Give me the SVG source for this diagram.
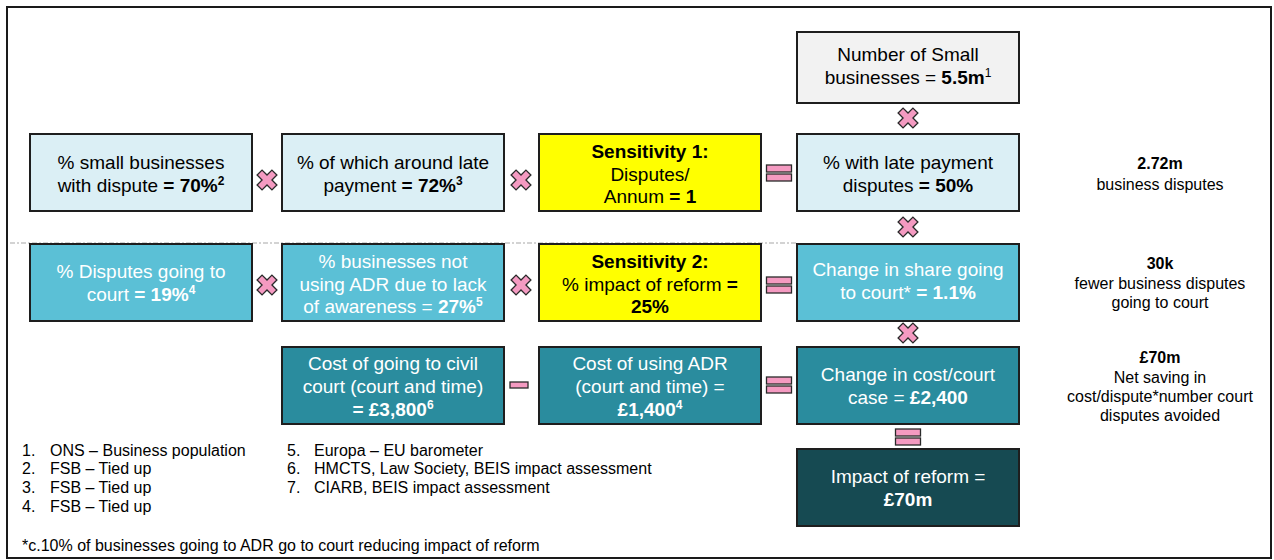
<svg xmlns="http://www.w3.org/2000/svg" width="1274" height="560" viewBox="0 0 1274 560">
<style>
text{font-family:"Liberation Sans",Arial,sans-serif;}
.box{stroke:#1e1e1e;stroke-width:2;}
.c1{fill:#dbeff5;}
.c2{fill:#5bc0d6;}
.c3{fill:#2a8c9e;}
.c4{fill:#164a52;}
.cy{fill:#ffff00;}
.cg{fill:#f2f2f2;}
.t{font-size:19px;text-anchor:middle;fill:#000;}
.w{fill:#fff;}
.b{font-weight:bold;}
.sup{font-size:12px;}
.note{font-size:16px;text-anchor:middle;fill:#000;}
.fn{font-size:16px;fill:#000;}
.op{fill:#f49ac1;stroke:#2a2a2a;stroke-width:1.3;}
</style>
<defs>
<polygon id="mul" points="-3.5,-10.5 3.5,-10.5 3.5,-3.5 10.5,-3.5 10.5,3.5 3.5,3.5 3.5,10.5 -3.5,10.5 -3.5,3.5 -10.5,3.5 -10.5,-3.5 -3.5,-3.5" transform="rotate(45)" class="op"/>
<g id="eqh"><rect x="-12.5" y="-8" width="25" height="7" class="op"/><rect x="-12.5" y="1" width="25" height="7" class="op"/></g>
</defs>
<rect x="7" y="7" width="1264" height="551" fill="#fff" stroke="#1a1a1a" stroke-width="2"/>
<line x1="10" y1="243" x2="797" y2="243" stroke="#a8a8a8" stroke-width="1.2" stroke-dasharray="5 2 2 2"/>

<g id="connectors">
<use href="#mul" x="267" y="180"/>
<use href="#mul" x="521" y="180"/>
<use href="#eqh" x="779" y="173"/>
<use href="#mul" x="908" y="118"/>
<use href="#mul" x="908" y="227"/>
<use href="#mul" x="267" y="285"/>
<use href="#mul" x="521" y="285"/>
<use href="#eqh" x="779" y="285"/>
<use href="#mul" x="908" y="333"/>
<rect x="510" y="382" width="18" height="6" class="op"/>
<use href="#eqh" x="779" y="385"/>
<use href="#eqh" x="908" y="437"/>
</g>

<g id="n-top">
<rect x="797" y="32" width="222" height="71" class="box cg"/>
<text class="t"><tspan x="908" y="61">Number of Small</tspan><tspan x="908" y="84">businesses = <tspan class="b">5.5m</tspan><tspan class="sup" dy="-7">1</tspan></tspan></text>
</g>

<g id="n-r1c1">
<rect x="30" y="134" width="222" height="77" class="box c1"/>
<text class="t"><tspan x="141" y="169">% small businesses</tspan><tspan x="141" y="192">with dispute <tspan class="b">= 70%</tspan><tspan class="b sup" dy="-7">2</tspan></tspan></text>
</g>
<g id="n-r1c2">
<rect x="282" y="134" width="222" height="77" class="box c1"/>
<text class="t"><tspan x="393" y="169">% of which around late</tspan><tspan x="393" y="192">payment <tspan class="b">= 72%</tspan><tspan class="b sup" dy="-7">3</tspan></tspan></text>
</g>
<g id="n-r1c3">
<rect x="539" y="134" width="222" height="77" class="box cy"/>
<text class="t"><tspan x="650" y="158" class="b">Sensitivity 1:</tspan><tspan x="650" y="181">Disputes/</tspan><tspan x="650" y="203">Annum <tspan class="b">= 1</tspan></tspan></text>
</g>
<g id="n-r1c4">
<rect x="797" y="134" width="222" height="77" class="box c1"/>
<text class="t"><tspan x="908" y="169">% with late payment</tspan><tspan x="908" y="192">disputes <tspan class="b">= 50%</tspan></tspan></text>
</g>

<g id="n-r2c1">
<rect x="30" y="244" width="222" height="77" class="box c2"/>
<text class="t w"><tspan x="141" y="278">% Disputes going to</tspan><tspan x="141" y="301">court <tspan class="b">= 19%</tspan><tspan class="b sup" dy="-7">4</tspan></tspan></text>
</g>
<g id="n-r2c2">
<rect x="282" y="244" width="222" height="77" class="box c2"/>
<text class="t w"><tspan x="393" y="268">% businesses not</tspan><tspan x="393" y="291">using ADR due to lack</tspan><tspan x="393" y="313">of awareness = <tspan class="b">27%</tspan><tspan class="b sup" dy="-7">5</tspan></tspan></text>
</g>
<g id="n-r2c3">
<rect x="539" y="244" width="222" height="77" class="box cy"/>
<text class="t"><tspan x="650" y="268" class="b">Sensitivity 2:</tspan><tspan x="650" y="291">% impact of reform <tspan class="b">=</tspan></tspan><tspan x="650" y="313" class="b">25%</tspan></text>
</g>
<g id="n-r2c4">
<rect x="797" y="244" width="222" height="77" class="box c2"/>
<text class="t w"><tspan x="908" y="276">Change in share going</tspan><tspan x="908" y="299">to court* <tspan class="b">= 1.1%</tspan></tspan></text>
</g>

<g id="n-r3c2">
<rect x="282" y="347" width="222" height="77" class="box c3"/>
<text class="t w"><tspan x="393" y="370">Cost of going to civil</tspan><tspan x="393" y="393">court (court and time)</tspan><tspan x="393" y="416" class="b">= £3,800<tspan class="sup" dy="-7">6</tspan></tspan></text>
</g>
<g id="n-r3c3">
<rect x="539" y="347" width="222" height="77" class="box c3"/>
<text class="t w"><tspan x="650" y="370">Cost of using ADR</tspan><tspan x="650" y="393">(court and time) =</tspan><tspan x="650" y="416" class="b">£1,400<tspan class="sup" dy="-7">4</tspan></tspan></text>
</g>
<g id="n-r3c4">
<rect x="797" y="347" width="222" height="77" class="box c3"/>
<text class="t w"><tspan x="908" y="381">Change in cost/court</tspan><tspan x="908" y="404">case = <tspan class="b">£2,400</tspan></tspan></text>
</g>

<g id="n-impact">
<rect x="797" y="449" width="222" height="77" class="box c4"/>
<text class="t w"><tspan x="908" y="483">Impact of reform =</tspan><tspan x="908" y="506" class="b">£70m</tspan></text>
</g>

<g id="notes">
<text class="note"><tspan x="1160" y="169" class="b">2.72m</tspan><tspan x="1160" y="190">business disputes</tspan></text>
<text class="note"><tspan x="1160" y="269" class="b">30k</tspan><tspan x="1160" y="289">fewer business disputes</tspan><tspan x="1160" y="308">going to court</tspan></text>
<text class="note"><tspan x="1160" y="363" class="b">£70m</tspan><tspan x="1160" y="383">Net saving in</tspan><tspan x="1160" y="402">cost/dispute*number court</tspan><tspan x="1160" y="421">disputes avoided</tspan></text>
</g>

<g id="footnotes">
<text class="fn" x="22" y="456">1.</text><text class="fn" x="50" y="456">ONS – Business population</text>
<text class="fn" x="22" y="474">2.</text><text class="fn" x="50" y="474">FSB – Tied up</text>
<text class="fn" x="22" y="493">3.</text><text class="fn" x="50" y="493">FSB – Tied up</text>
<text class="fn" x="22" y="512">4.</text><text class="fn" x="50" y="512">FSB – Tied up</text>
<text class="fn" x="287" y="456">5.</text><text class="fn" x="314" y="456">Europa – EU barometer</text>
<text class="fn" x="287" y="474">6.</text><text class="fn" x="314" y="474">HMCTS, Law Society, BEIS impact assessment</text>
<text class="fn" x="287" y="493">7.</text><text class="fn" x="314" y="493">CIARB, BEIS impact assessment</text>
<text class="fn" x="22" y="551">*c.10% of businesses going to ADR go to court reducing impact of reform</text>
</g>
</svg>
